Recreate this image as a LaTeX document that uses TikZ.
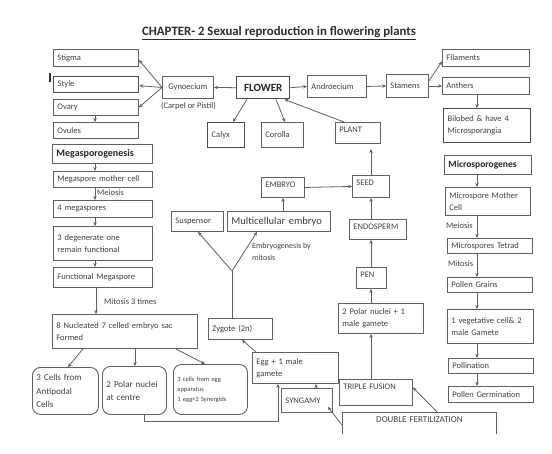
\documentclass[tikz,border=0pt]{standalone}
\usepackage{fontspec}
\setmainfont{Carlito}
\usetikzlibrary{arrows.meta,calc}
\newcommand\bx[7][]{%
  \pgfmathsetmacro\bxw{#5-#3}%
  \pgfmathsetmacro\bxh{#6-#4}%
  \pgfmathsetmacro\bxtw{#5-#3-8}%
  \node[box,minimum width=\bxw pt,minimum height=\bxh pt,text width=\bxtw pt,anchor=north west,#1] (#2) at (#3,#4) {#7};}
\newcommand\bxt[7][]{%
  \pgfmathsetmacro\bxtw{#5-#3-8}%
  \pgfmathsetmacro\bxd{#6-#4-6-7}%
  \node[box,text height=7pt,text depth=\bxd pt,text width=\bxtw pt,anchor=north west,#1] (#2) at (#3,#4) {#7};}
\begin{document}
\begin{tikzpicture}[x=1pt,y=-1pt,
  box/.style={draw=black!62,line width=0.9pt,text=black!75,inner xsep=4pt,inner ysep=3pt,align=left,
    font=\fontsize{8.5}{12}\selectfont},
  rbox/.style={rounded corners=8pt},
  heavy/.style={line width=1.4pt,draw=black!70},
  lbl/.style={text=black!75,inner sep=0pt,align=left,font=\fontsize{8.5}{12}\selectfont},
  arr/.style={draw=black!62,line width=0.8pt,-{Stealth[length=4pt,width=3.5pt]}},
  ln/.style={draw=black!62,line width=0.8pt}]
\useasboundingbox (0,0) rectangle (552,453);
\fill[white] (0,0) rectangle (552,453);
% title
\node[text=black!82,font=\fontsize{12.8}{14}\selectfont\bfseries,inner sep=0pt] (title) at (279,33)
  {\underline{CHAPTER- 2 Sexual reproduction in flowering plants}};
% left column
\bx{stigma}{53}{49}{138}{66}{Stigma}
\bx[heavy]{style}{53}{76}{138}{92}{Style}
\bx{ovary}{53}{99}{138}{115}{Ovary}
\bx{ovules}{53}{122}{138}{138}{Ovules}
\bx[font=\fontsize{10}{12}\selectfont\bfseries,text=black!85]{megas}{52}{144}{152}{163}{Megasporogenesis}
\bx{mmc}{53}{171}{152}{187}{Megaspore mother cell}
\bx{fourm}{53}{200}{152}{217}{4 megaspores}
\bx{threed}{53}{226}{152}{260}{3 degenerate one\\remain functional}
\bx{func}{53}{267}{152}{287}{Functional Megaspore}
\bx{sac}{52}{314}{197}{348}{8 Nucleated 7 celled embryo sac\\Formed}
\bx[rbox,font=\fontsize{9}{13.5}\selectfont]{ant}{32}{367}{98}{414}{3 Cells from\\Antipodal\\Cells}
\bx[rbox,font=\fontsize{9}{13}\selectfont]{pnc}{102}{366}{166}{414}{2 Polar nuclei\\at centre}
\bx[rbox,font=\fontsize{6.5}{10}\selectfont]{eggapp}{173}{364}{247}{414}{3 cells from egg\\apparatus\\1 egg+2 Synergids}
\draw[ln,line width=1.3pt,draw=black!80] (50,73) -- (50,82);
% flower part
\bx[align=center]{gyn}{162}{76}{213}{98}{Gynoecium}
\node[lbl] (carpel) at (188.5,106) {(Carpel or Pistil)};
\bx[heavy,align=center,font=\fontsize{11}{13}\selectfont\bfseries,text=black!85]{flower}{236}{76}{289}{98}{FLOWER}
\bx[heavy]{calyx}{207}{122}{244}{147}{Calyx}
\bx{corolla}{261}{122}{303}{147}{Corolla}
\bxt{plant}{335}{122}{380}{143}{PLANT}
\bx{andro}{307}{75}{366}{97}{Androecium}
\bx{stamens}{386}{74}{428}{97}{Stamens}
\bx{fil}{442}{49}{529}{66}{Filaments}
\bx{anth}{442}{77}{529}{94}{Anthers}
\bx[heavy]{bilob}{443}{108}{530}{142}{Bilobed \& have 4\\Microsporangia}
% middle
\bxt{embryo}{261}{177}{304}{197}{EMBRYO}
\bxt{seed}{352}{175}{389}{197}{SEED}
\bxt{endo}{349}{219}{406}{239}{ENDOSPERM}
\bxt{pen}{356}{267}{386}{288}{PEN}
\bx{susp}{171}{211}{223}{231}{Suspensor}
\bx[font=\fontsize{10.5}{12}\selectfont]{multi}{227}{211}{330}{231}{Multicellular embryo}
\node[lbl,anchor=west,font=\fontsize{8}{12.5}\selectfont] (embgen) at (252,251.5) {Embryogenesis by\\mitosis};
\bx{zyg}{208}{318}{272}{339}{Zygote (2n)}
\bx{egg}{252}{352}{338}{383}{Egg + 1 male\\gamete}
\bx{syn}{281}{388}{332}{412}{SYNGAMY}
\bx{pn1}{338}{303}{423}{333}{2 Polar nuclei + 1\\male gamete}
\bxt{triple}{339}{379}{412}{405}{TRIPLE FUSION}
\bxt[draw=none,align=center,font=\fontsize{9}{12}\selectfont]{df}{342}{412}{496}{433}{DOUBLE FERTILIZATION}
\draw[ln,line width=0.9pt] (df.south west) -- (df.north west) -- (df.north east) -- (df.south east);
% right column
\bx[font=\fontsize{9.5}{12}\selectfont\bfseries,text=black!85]{microg}{444}{155}{531}{174}{Microsporogenes}
\bx{mmc2}{445}{187}{530}{215}{Microspore Mother\\Cell}
\bx{tetrad}{447}{238}{532}{253}{Microspores Tetrad}
\bx{pgrains}{447}{277}{532}{292}{Pollen Grains}
\bx{veg}{447}{309}{533}{343}{1 vegetative cell\& 2\\male Gamete}
\bx{poll}{448}{358}{533}{373}{Pollination}
\bx{germ}{448}{386}{533}{402}{Pollen Germination}
% labels
\node[lbl,anchor=west] (meio1) at (97,193) {Meiosis};
\node[lbl,anchor=west] (mit3) at (104,302) {Mitosis 3 times};
\node[lbl,anchor=west] (meio2) at (446,226) {Meiosis};
\node[lbl,anchor=west] (mit2) at (448,264) {Mitosis};
% column coordinates
\coordinate (cL) at (95,0);
\coordinate (cR) at (477,0);
\coordinate (cM) at (371,0);
\coordinate (yj) at (232,271);
% connectors: gynoecium
\draw[arr] (gyn.west) -- ([yshift=-2pt]stigma.east);
\draw[arr] (gyn.west) -- ([yshift=-1pt]style.east);
\draw[arr] (gyn.west) -- (ovary.east);
\draw[arr] (cL |- ovary.south) -- (cL |- ovules.north);
\draw[arr] (flower.west) -- (gyn.east);
\draw[arr] (flower.east) -- (andro.west);
\draw[arr] (andro.east) -- (stamens.west);
\draw[arr] ([yshift=5pt]stamens.east) -- ([yshift=-3.5pt]fil.west);
\draw[arr] (stamens.east) -- (anth.west);
\draw[arr] (cR |- anth.south) -- (cR |- bilob.north);
\draw[arr] ([xshift=11pt]flower.south west) -- ([xshift=26pt]calyx.north west);
\draw[arr] ([xshift=40pt]flower.south west) -- ([xshift=24pt]corolla.north west);
\draw[arr] ([xshift=9pt]plant.north west) -- ([xshift=-6pt]flower.south east);
% left column
\draw[arr] (cL |- megas.south) -- (cL |- mmc.north);
\draw[arr] (cL |- mmc.south) -- (cL |- fourm.north);
\draw[arr] (cL |- fourm.south) -- (cL |- threed.north);
\draw[arr] (cL |- threed.south) -- (cL |- func.north);
\draw[arr] ([xshift=43pt]func.south west) -- ([xshift=43pt]func.south west |- sac.north);
\draw[arr] ([xshift=31pt]sac.south west) -- ([xshift=36pt]ant.north west);
\draw[arr] ([xshift=83pt]sac.south west) -- ([xshift=83pt]sac.south west |- pnc.north);
\draw[arr] ([xshift=124pt]sac.south west) -- ([xshift=32pt]eggapp.north west);
\draw[arr] ([xshift=42pt]pnc.south west) -- ++(0,6) -| ([xshift=26pt]egg.south west);
% embryo part
\draw[ln] (yj |- zyg.north) -- (yj);
\draw[arr] (yj) -- ([xshift=27pt]susp.south west);
\draw[arr] (yj) -- ([xshift=30pt]multi.south west);
\draw[arr] (embryo.south |- multi.north) -- (embryo.south);
\draw[arr] (embryo.east) -- (seed.west);
\draw[arr,shorten >=5pt] (seed.north) -- (seed.north |- plant.south);
\draw[arr] (cM |- endo.north) -- (cM |- seed.south);
\draw[arr] (cM |- pen.north) -- (cM |- endo.south);
\draw[arr] (cM |- pn1.north) -- (cM |- pen.south);
\draw[arr] (cM |- triple.north) -- (cM |- pn1.south);
\draw[arr] ([xshift=4pt]egg.north west) -- ([xshift=34pt]zyg.south west);
\draw[arr] ([xshift=35pt]syn.north west) -- ([xshift=35pt]syn.north west |- egg.south);
\draw[arr] ([yshift=-13pt]df.north west) -- ([xshift=-5pt,yshift=6pt]syn.south east);
\draw[arr] ([xshift=95pt]df.north west) -- ([yshift=5pt]triple.east);
% right column
\draw[arr] (cR |- microg.south) -- (cR |- mmc2.north);
\draw[arr] (cR |- mmc2.south) -- (cR |- tetrad.north);
\draw[arr] (cR |- tetrad.south) -- (cR |- pgrains.north);
\draw[arr] (cR |- pgrains.south) -- (cR |- veg.north);
\draw[arr] (cR |- veg.south) -- (cR |- poll.north);
\draw[arr] (cR |- poll.south) -- (cR |- germ.north);
\end{tikzpicture}
\end{document}
